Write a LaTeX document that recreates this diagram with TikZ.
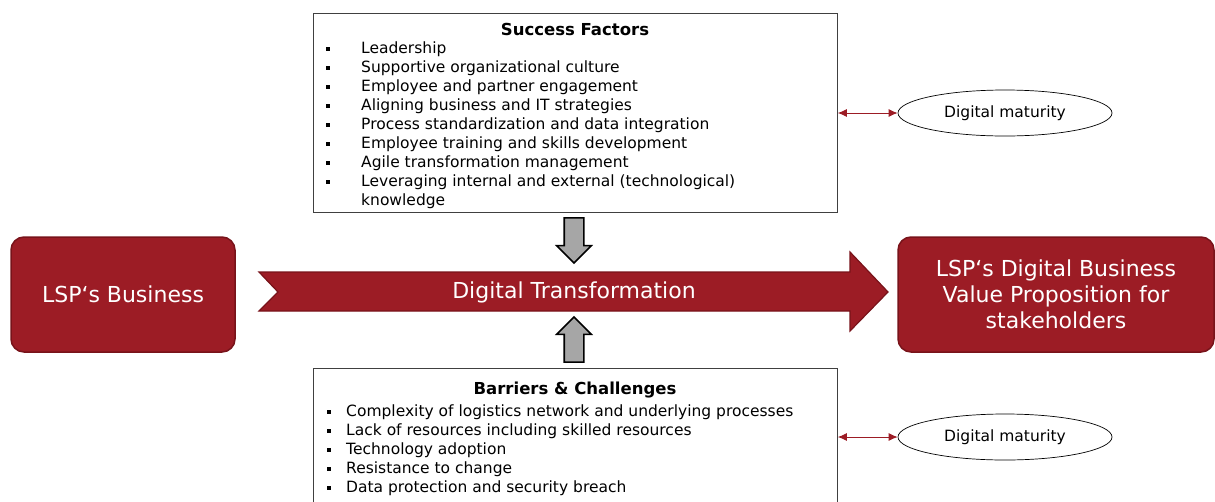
\documentclass[tikz,border=0pt]{standalone}
\usepackage{fontspec}
\setmainfont{DejaVu Sans}
\usetikzlibrary{positioning, shapes.geometric, shapes.arrows, arrows.meta}
\definecolor{lspred}{HTML}{9C1C25}
\definecolor{lspdark}{HTML}{78131A}
\definecolor{arrowgray}{HTML}{A6A6A6}
\newcommand{\bul}{\rule[0.18em]{3.6pt}{3.6pt}}

\begin{document}
\begin{tikzpicture}[x=1pt,y=-1pt,
    every node/.style={font=\fontsize{15.5}{19}\selectfont},
    redbox/.style={rounded corners=13pt, fill=lspred, draw=lspdark, line width=1.5pt,
      text=white, align=center, font=\fontsize{22}{26}\selectfont},
    listbox/.style={draw=black!75, line width=0.8pt, minimum width=524pt, anchor=north west},
    listtitle/.style={font=\fontsize{16.5}{19}\selectfont\bfseries},
    listtext/.style={align=left, inner sep=0pt, anchor=north west},
    pusharrow/.style={single arrow, draw, line width=1.6pt, fill=arrowgray,
      inner sep=9pt, minimum height=45pt, minimum width=34pt,
      single arrow head extend=7.5pt},
    maturity/.style={ellipse, draw, line width=0.7pt, minimum width=214pt, minimum height=46pt},
    link/.style={{Latex[length=9pt,width=8pt]}-{Latex[length=9pt,width=8pt]}, draw=lspred, line width=0.9pt}]
  \useasboundingbox (0,0) rectangle (1215,501);

  \node[redbox, minimum width=224pt, minimum height=115pt] (biz) at (123,294.5) {LSP‘s Business};
  \node[redbox, minimum width=316pt, minimum height=115pt] (dbvp) at (1056,294.5)
    {LSP‘s Digital Business\\Value Proposition for\\stakeholders};

  \fill[lspred, draw=lspdark, line width=1.2pt]
    (259,272) -- (850,272) -- (850,252) -- (888,292) -- (850,331) -- (850,311)
    -- (259,311) -- (278,292) -- cycle;
  \node[text=white, font=\fontsize{22}{26}\selectfont] (dt) at (574,292) {Digital Transformation};

  \node[listbox, minimum height=199pt] (sf) at (313,13) {};
  \node[listtitle] (sftitle) at (575,29) {Success Factors};
  \node[listtext] (sflist) at (326,41.5) {%
    \makebox[35pt][l]{\bul}Leadership\\
    \makebox[35pt][l]{\bul}Supportive organizational culture\\
    \makebox[35pt][l]{\bul}Employee and partner engagement\\
    \makebox[35pt][l]{\bul}Aligning business and IT strategies\\
    \makebox[35pt][l]{\bul}Process standardization and data integration\\
    \makebox[35pt][l]{\bul}Employee training and skills development\\
    \makebox[35pt][l]{\bul}Agile transformation management\\
    \makebox[35pt][l]{\bul}Leveraging internal and external (technological)\\
    \hspace*{35pt}knowledge};

  \node[listbox, minimum height=135pt] (bc) at (313,368) {};
  \node[listtitle] (bctitle) at (575,390) {Barriers \& Challenges};
  \node[listtext] (bclist) at (327,404.5) {%
    \makebox[19pt][l]{\bul}Complexity of logistics network and underlying processes\\
    \makebox[19pt][l]{\bul}Lack of resources including skilled resources\\
    \makebox[19pt][l]{\bul}Technology adoption\\
    \makebox[19pt][l]{\bul}Resistance to change\\
    \makebox[19pt][l]{\bul}Data protection and security breach};

  \node[pusharrow, shape border rotate=270] (push) at (574,235.5) {};
  \node[pusharrow, shape border rotate=90] (pull) at (574,344.5) {};

  \node[maturity] (dm1) at (1005,113) {Digital maturity};
  \node[maturity] (dm2) at (1005,437) {Digital maturity};
  \draw[link] (sf.east |- dm1) -- (dm1);
  \draw[link] (bc.east |- dm2) -- (dm2);
\end{tikzpicture}
\end{document}
